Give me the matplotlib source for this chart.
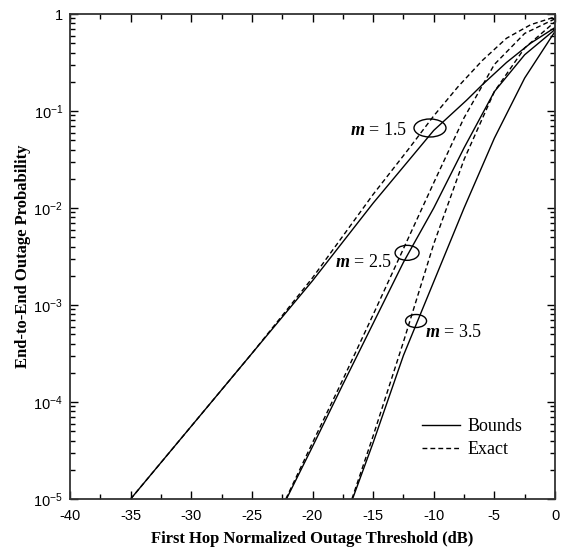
import numpy as np
import matplotlib
matplotlib.use('agg')
matplotlib.rcParams.update(
    {'mathtext.fontset': 'custom',
     'mathtext.it': 'Liberation Serif:italic:bold',
     'mathtext.rm': 'Liberation Serif'}
)
import matplotlib.pyplot as plt
from matplotlib.patches import Ellipse
from matplotlib.transforms import ScaledTranslation
from matplotlib.ticker import FixedLocator, LogLocator, NullFormatter

# curves: threshold (dB) and log10 of outage probability
x_b15 = [-35, -30, -25, -20, -15, -10, -7.3, -6, -4, -2, 0]
y_b15 = [-5, -4.25, -3.5, -2.75, -1.95, -1.2, -0.89, -0.73, -0.5, -0.3, -0.14]
x_e15 = [-35, -30, -25, -20, -15, -12, -10, -8, -6, -4, -2, 0]
y_e15 = [-5, -4.25, -3.5, -2.72, -1.86, -1.38, -1.05, -0.75, -0.48, -0.25, -0.11, -0.03]

x_b25 = [-22.15, -20, -17.5, -15, -12.5, -10, -7.5, -5, -2.5, 0]
y_b25 = [-5, -4.46, -3.82, -3.19, -2.56, -2.0, -1.38, -0.8, -0.42, -0.16]
x_e25 = [-22.2, -20, -17.5, -15, -12.5, -10, -7.5, -5, -2.5, 0]
y_e25 = [-5, -4.42, -3.77, -3.1, -2.42, -1.74, -1.07, -0.52, -0.2, -0.05]

x_b35 = [-16.7, -15, -12.5, -10, -7.5, -5, -2.5, 0]
y_b35 = [-5, -4.42, -3.52, -2.76, -2.0, -1.28, -0.66, -0.18]
x_e35 = [-16.75, -15, -12.5, -10, -7.5, -5, -2.5, 0]
y_e35 = [-5, -4.35, -3.38, -2.37, -1.5, -0.8, -0.35, -0.08]

bounds = [(x_b15, y_b15), (x_b25, y_b25), (x_b35, y_b35)]
exact = [(x_e15, y_e15), (x_e25, y_e25), (x_e35, y_e35)]

# annotation: label, label position, ellipse centre, ellipse size (inches)
m_labels = ['1.5', '2.5', '3.5']
label_xy = [(-12.2, 10**-1.196), (-13.44, 10**-2.557), (-10.75, 10**-3.28)]
label_ha = ['right', 'right', 'left']
ell_xy = [(-10.31, 0.0668), (-12.2, 0.00345), (-11.46, 6.84e-4)]
ell_wh = [(0.32, 0.18), (0.24, 0.15), (0.21, 0.13)]

fig = plt.figure(figsize=(5.63, 5.49), dpi=100)
ax = fig.add_axes([70/563, 1-499/549, 485/563, 485/549])

for i, (xs, ys) in enumerate(bounds):
    ax.semilogy(xs, 10**np.array(ys), color='black', lw=1.0,
                label='Bounds' if i == 0 else None)
for i, (xs, ys) in enumerate(exact):
    ax.semilogy(xs, 10**np.array(ys), color='black', lw=1.0, dashes=(3.5, 2.2),
                label='Exact' if i == 0 else None)

for lab, (tx, ty), ha, (ex, ey), (w, h) in zip(m_labels, label_xy, label_ha, ell_xy, ell_wh):
    ax.text(tx, ty, r'$\mathit{m}$ = ' + lab, ha=ha, va='center',
            fontsize=13, family='Liberation Serif')
    tr = fig.dpi_scale_trans + ScaledTranslation(ex, ey, ax.transData)
    ax.add_patch(Ellipse((0, 0), w, h, transform=tr, fill=False,
                         edgecolor='black', lw=1.0))

ax.set_xlim(-40, 0)
ax.set_ylim(1e-5, 1)
ax.set_xticks(np.arange(-40, 1, 5))
ax.xaxis.set_minor_locator(FixedLocator(np.arange(-37.5, 0, 5)))
ax.set_xticklabels(['%d' % v for v in np.arange(-40, 1, 5)],
                   family='Liberation Sans', fontsize=10.5)
yt = [1e-5, 1e-4, 1e-3, 1e-2, 1e-1, 1]
ax.set_yticks(yt)
ax.set_yticklabels([r'$\mathregular{10^{-%d}}$' % k for k in [5, 4, 3, 2, 1]] + ['1'],
                   family='Liberation Sans', fontsize=10.5)
ax.yaxis.set_minor_locator(LogLocator(base=10, subs=np.arange(2, 10)))
ax.yaxis.set_minor_formatter(NullFormatter())
ax.tick_params(which='both', direction='in', top=True, right=True, width=1.0)
ax.tick_params(which='major', length=6)
ax.tick_params(axis='x', which='major', pad=7)
ax.tick_params(axis='y', which='major', pad=5)
ax.tick_params(which='minor', length=3.5)
for s in ax.spines.values():
    s.set_linewidth(1.3)
    s.set_color('#333333')

ax.set_xlabel('First Hop Normalized Outage Threshold (dB)',
              family='Liberation Serif', fontweight='bold', fontsize=12, labelpad=6)
ax.set_ylabel('End-to-End Outage Probability',
              family='Liberation Serif', fontweight='bold', fontsize=12, labelpad=2)

ax.legend(loc='upper left', bbox_to_anchor=(0.726, 0.166), frameon=False,
          prop={'family': 'Liberation Serif', 'size': 13},
          handlelength=2.1, handletextpad=0.4, borderpad=0, borderaxespad=0,
          labelspacing=0.3)

fig.savefig('out.png', dpi=100)
